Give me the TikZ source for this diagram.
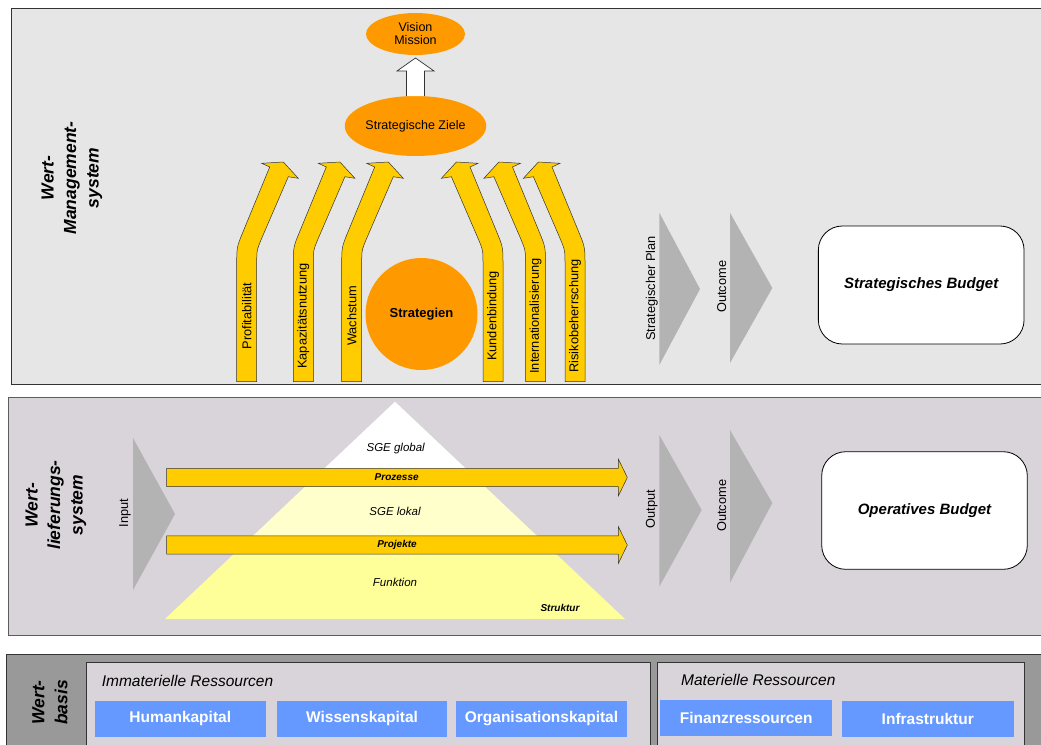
\documentclass[tikz,border=0pt]{standalone}
\usepackage{fontspec}
\setmainfont{Liberation Sans}
\usetikzlibrary{shapes.geometric,calc}

\definecolor{panelA}{HTML}{E6E6E6}
\definecolor{panelB}{HTML}{D9D4D9}
\definecolor{panelC}{HTML}{999999}
\definecolor{orangeF}{HTML}{FF9900}
\definecolor{goldF}{HTML}{FFCC00}
\definecolor{chevF}{HTML}{B3B3B3}
\definecolor{blueF}{HTML}{6699FF}
\definecolor{paleY}{HTML}{FFFFCC}
\definecolor{lightY}{HTML}{FFFF99}
\definecolor{edge}{HTML}{333333}

\newcommand\fs[2]{\fontsize{#1}{#2}\selectfont}

% bent block arrow rising from the bottom of the upper panel;
% #1 = x of the outer bottom corner, #2 = 1 (leans right) or -1 (leans left)
\newcommand\risearrow[2]{%
  \begin{scope}[shift={(#1,0)}, xscale=#2]
    \path[goldarrow] (0,381.7) -- (0,265) .. controls (0,247) .. (6.9,230.4)
      -- (33,167) -- (25,163.3) -- (46.6,162) -- (61.6,178.3) -- (51.6,176.7)
      -- (25.5,237.1) .. controls (20,250) .. (20,264) -- (20,381.7) -- cycle;
  \end{scope}}

% horizontal block arrow through the pyramid; #1 = centre line
\newcommand\flowarrow[1]{%
  \path[goldarrow] (166.7,#1-9.2) -- (618.3,#1-9.2) -- (618.3,#1-18.5)
    -- (627.3,#1) -- (618.3,#1+18.5) -- (618.3,#1+9.2) -- (166.7,#1+9.2) -- cycle;}

\begin{document}
\begin{tikzpicture}[x=1pt,y=-1pt,
  panel/.style={draw=edge, line width=0.8pt},
  ell/.style={ellipse, fill=orangeF, inner sep=0pt, outer sep=0pt, align=center,
    font=\fs{12.5}{14}},
  goldarrow/.style={fill=goldF, draw=edge, line width=0.5pt},
  chev/.style={fill=chevF},
  vlabel/.style={rotate=90, inner sep=0pt, font=\fs{12.8}{15}},
  syslabel/.style={rotate=90, align=center, inner sep=0pt,
    font=\fs{17.5}{22.5}\bfseries\itshape},
  budget/.style={draw=black, line width=0.8pt, fill=white, rounded corners=24pt,
    inner sep=0pt, font=\fs{15}{18}\bfseries\itshape},
  group/.style={draw=edge, line width=0.8pt, fill=panelB},
  res/.style={fill=blueF, text=white, inner sep=0pt, minimum height=36pt,
    minimum width=171pt, font=\fs{15.5}{18}\bfseries},
  pyr/.style={font=\fs{11.5}{13}\itshape},
  flowlabel/.style={font=\fs{10}{12}\bfseries\itshape}
]
\useasboundingbox (0,0) rectangle (1041,744);
\clip (0,0) rectangle (1041,744);

% ---------- panels ----------
\path[panel, fill=panelA] (11,8) rectangle (1050,384.5);
\path[panel, fill=panelB, draw=edge!80] (8,397) rectangle (1050,635);
\path[panel, fill=panelC] (6.7,654.3) rectangle (1050,770);

% ---------- Wert-Managementsystem ----------
\node[syslabel] (wms) at (72,178) {Wert-\\Management-\\system};

\node[ell, minimum width=99pt, minimum height=42pt] (vision) at (415.5,34) {Vision\\[-1pt]Mission};
\node[ell, minimum width=141pt, minimum height=60pt] (ziele) at (415.5,126) {Strategische Ziele};
\node[circle, fill=orangeF, minimum size=112pt, inner sep=0pt, font=\fs{13}{15}\bfseries]
  (strat) at (421.5,314) {Strategien};

% hollow arrow from the goals up to vision and mission
\path[draw=edge, line width=0.7pt, fill=white]
  ($(ziele.north)+(-9,0)$) -- ($(ziele.north)+(-9,-25)$) -- ($(ziele.north)+(-18.5,-25)$)
  -- ($(vision.south)+(0,3)$) -- ($(ziele.north)+(18.5,-25)$) -- ($(ziele.north)+(9,-25)$)
  -- ($(ziele.north)+(9,0)$);

\risearrow{236.7}{1}
\risearrow{293.3}{1}
\risearrow{341.7}{1}
\risearrow{503}{-1}
\risearrow{545.5}{-1}
\risearrow{585}{-1}

\node[vlabel] (profit) at (246.7,316) {Profitabilität};
\node[vlabel] (kapaz) at (303.3,316) {Kapazitätsnutzung};
\node[vlabel] (wachs) at (351.7,316) {Wachstum};
\node[vlabel] (kunden) at (493,316) {Kundenbindung};
\node[vlabel] (intern) at (535.5,316) {Internationalisierung};
\node[vlabel] (risiko) at (575,316) {Risikobeherrschung};

\fill[chev] (659.3,212.7) -- (700,289) -- (659.3,365) -- cycle;
\fill[chev] (730,212.7) -- (772.3,288) -- (730,363) -- cycle;
\node[vlabel] (plan) at (651.7,288.3) {Strategischer Plan};
\node[vlabel] (outA) at (721.7,286.7) {Outcome};

\node[budget, minimum width=205.7pt, minimum height=118pt] (sbudget) at (921.2,285) {Strategisches Budget};

% ---------- Wertlieferungssystem ----------
\node[syslabel] (wls) at (56,505) {Wert-\\lieferungs-\\system};

\fill[chev] (133,438) -- (175,514) -- (133,590) -- cycle;
\node[vlabel] (input) at (125,513) {Input};

\begin{scope}
  \clip (395,401.7) -- (625,619) -- (165,619) -- cycle;
  \fill[white] (150,395) rectangle (640,477);
  \fill[paleY] (150,477) rectangle (640,545);
  \fill[lightY] (150,545) rectangle (640,625);
\end{scope}
\node[pyr] (global) at (395.7,449) {SGE global};
\node[pyr] (lokal) at (395,511) {SGE lokal};
\node[pyr] (funktion) at (395,582.7) {Funktion};
\node[flowlabel] (struktur) at (560,608.3) {Struktur};

\flowarrow{477.5}
\flowarrow{545}
\node[flowlabel] (prozesse) at (396.7,477.5) {Prozesse};
\node[flowlabel] (projekte) at (397,545) {Projekte};

\fill[chev] (659.3,435) -- (701.7,510) -- (659.3,586.7) -- cycle;
\fill[chev] (730,430) -- (772.3,503) -- (730,582.7) -- cycle;
\node[vlabel] (output) at (651.7,509) {Output};
\node[vlabel] (outB) at (721.7,505.8) {Outcome};

\node[budget, minimum width=205.6pt, minimum height=117.6pt] (obudget) at (924.5,510.5) {Operatives Budget};

% ---------- Wertbasis ----------
\node[rotate=90, align=center, inner sep=0pt, font=\fs{17.5}{23}\bfseries\itshape]
  (wb) at (50,702.5) {Wert-\\basis};

\path[group] (86,662) rectangle (650,770);
\path[group] (657.3,662.3) rectangle (1024,770);
\node[anchor=west, inner sep=0pt, font=\fs{15.5}{18}\itshape] (immat) at (101.6,680.7) {Immaterielle Ressourcen};
\node[anchor=west, inner sep=0pt, font=\fs{15.5}{18}\itshape] (mat) at (681,680) {Materielle Ressourcen};

\node[res, minimum width=170.7pt] (human) at (180.3,718.8) {Humankapital};
\node[res, minimum width=170.7pt] (wissen) at (362,718.8) {Wissenskapital};
\node[res, minimum width=171pt] (orga) at (541.5,718.8) {Organisationskapital};
\node[res, minimum width=172.3pt] (finanz) at (746.2,717.8) {Finanzressourcen};
\node[res, minimum width=172.3pt] (infra) at (927.8,718.8) {Infrastruktur};
\end{tikzpicture}
\end{document}
